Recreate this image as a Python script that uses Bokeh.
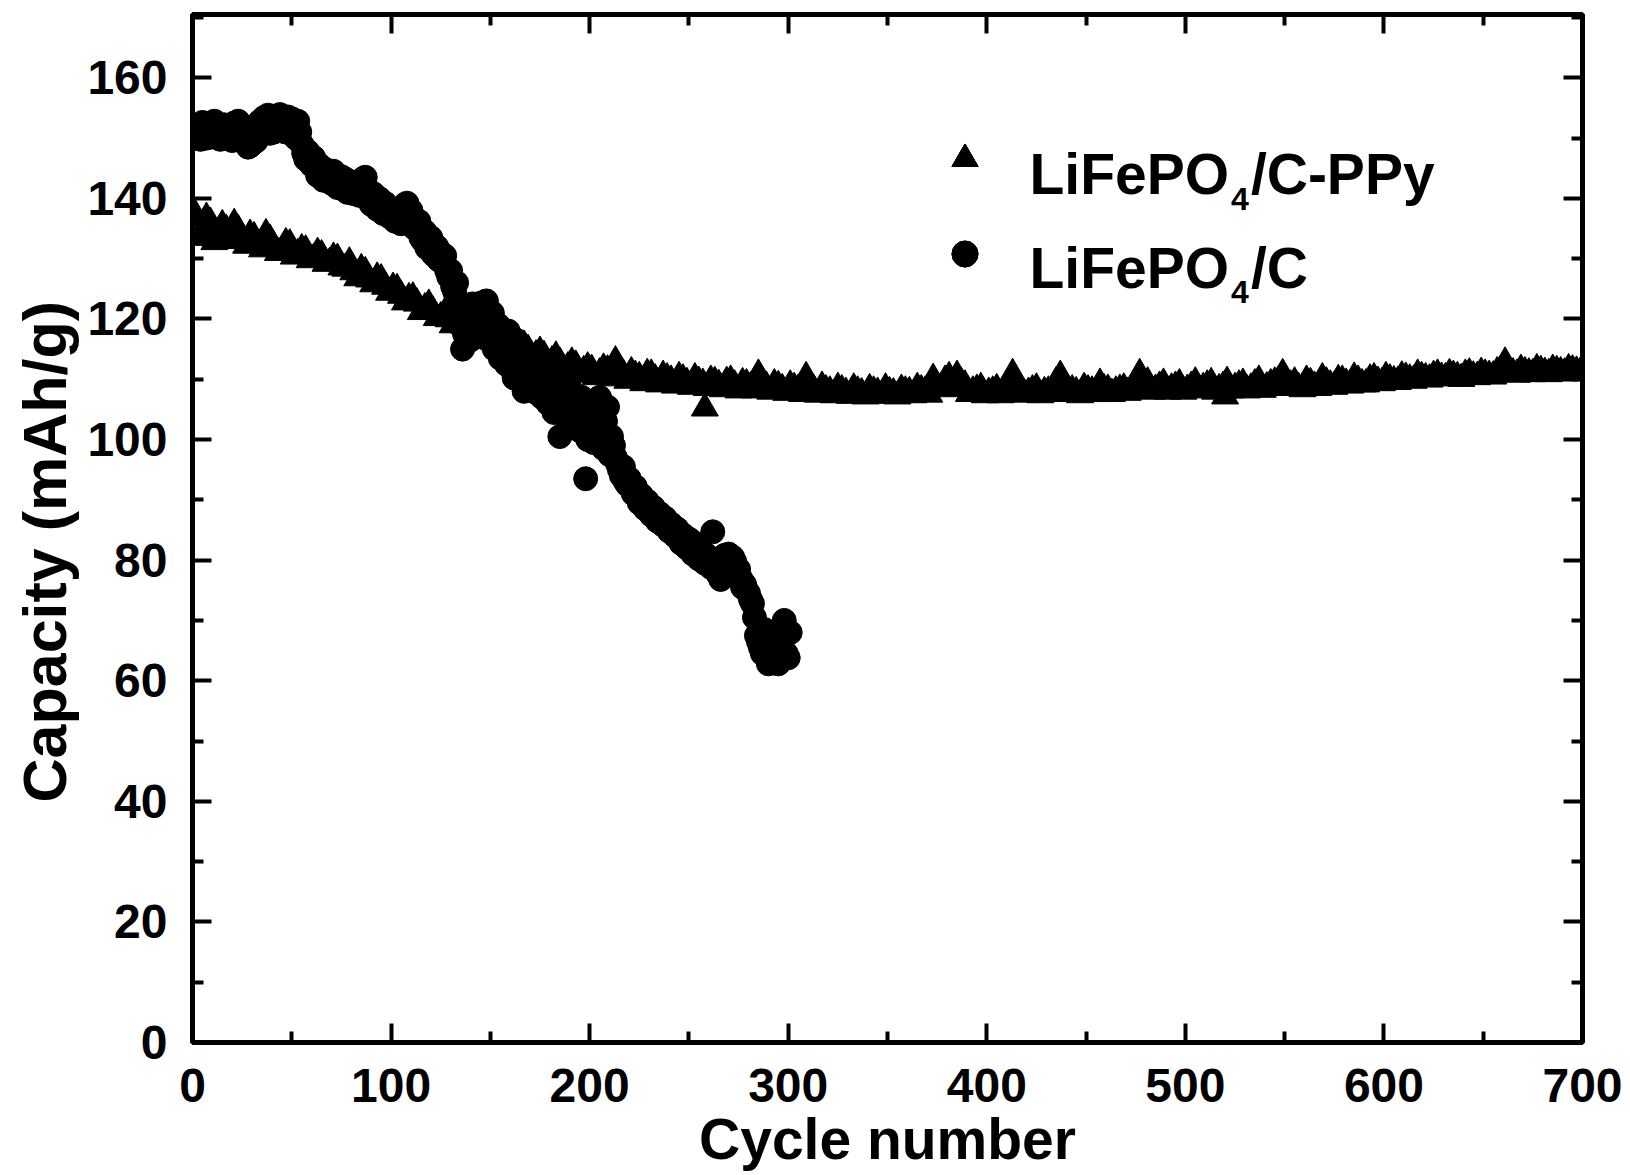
from bokeh.plotting import figure
from bokeh.models import Range1d, LinearAxis, FixedTicker, Label, Legend, LegendItem, CustomJSTickFormatter, Title
from bokeh.embed import file_html
from bokeh.resources import INLINE
from bokeh.core.properties import value

# ---------------- data ----------------
x_major = [0, 100, 200, 300, 400, 500, 600, 700]
x_minor = [50, 150, 250, 350, 450, 550, 650]
y_major = [0, 20, 40, 60, 80, 100, 120, 140, 160]
y_minor = [10, 30, 50, 70, 90, 110, 130, 150, 170]

# LiFePO4/C-PPy (triangles): cycles 1,5,9,...
ppy_cycle_a = list(range(1, 701, 4))
ppy_cap_a = [
    137.5, 134.5, 136.0, 133.2, 134.8, 135.8, 133.0, 134.0, 132.3, 134.1,
    132.0, 131.4, 132.4, 130.8, 131.4, 130.0, 130.6, 129.3, 130.0, 128.4,
    127.8, 128.3, 126.6, 126.9, 125.4, 125.2, 123.9, 123.5, 122.6, 121.8,
    121.3, 120.3, 120.0, 119.2, 118.9, 118.0, 117.9, 117.0, 116.8, 115.9,
    116.2, 115.0, 114.9, 114.0, 113.9, 113.0, 112.8, 112.0, 112.3, 111.4,
    111.6, 111.0, 111.5, 113.0, 110.8, 111.2, 110.4, 110.9, 110.0, 110.6,
    109.8, 110.4, 109.4, 110.2, 109.3, 109.8, 109.1, 109.6, 109.0, 109.4,
    108.7, 110.8, 108.8, 109.2, 108.4, 109.0, 108.3, 110.4, 108.2, 108.8,
    108.0, 108.6, 107.8, 108.5, 107.7, 108.4, 107.8, 108.5, 107.7, 108.3,
    107.9, 108.6, 108.0, 110.1, 108.6, 110.4, 110.6, 109.0, 108.0, 108.6,
    107.8, 108.4, 108.0, 110.9, 108.2, 107.8, 108.5, 107.9, 108.3, 110.6,
    108.2, 107.9, 108.6, 108.0, 109.3, 108.3, 108.0, 108.5, 108.4, 110.9,
    109.5, 108.3, 109.3, 108.5, 109.2, 108.3, 109.5, 108.6, 109.4, 108.4,
    109.6, 108.6, 109.3, 108.5, 109.8, 108.7, 109.5, 110.9, 109.0, 108.6,
    109.8, 108.8, 110.2, 109.0, 109.9, 109.3, 110.3, 109.2, 110.0, 109.6,
    110.4, 109.7, 110.5, 110.0, 110.8, 110.2, 110.6, 110.3, 110.9, 110.4,
    110.8, 110.5, 111.1, 110.6, 111.2, 112.8, 111.0, 111.6, 111.0, 111.7,
    111.1, 111.6, 111.2, 111.7, 111.3,
]
# LiFePO4/C-PPy: cycles 3,7,11,...
ppy_cycle_b = list(range(3, 701, 4))
ppy_cap_b = [
    133.5, 136.8, 132.8, 135.6, 133.0, 134.8, 132.2, 133.6, 131.6, 133.2,
    131.0, 132.6, 130.4, 131.6, 129.8, 131.0, 129.2, 130.2, 128.6, 129.4,
    126.8, 127.8, 125.8, 126.6, 124.4, 125.0, 122.8, 123.6, 121.2, 122.4,
    120.2, 121.0, 119.0, 119.8, 117.6, 118.8, 116.4, 117.8, 115.4, 116.8,
    114.4, 115.6, 113.4, 114.6, 112.4, 113.8, 111.6, 112.8, 110.8, 112.0,
    110.4, 111.8, 110.2, 111.0, 109.8, 110.6, 109.4, 110.8, 109.2, 110.2,
    109.0, 110.0, 108.8, 109.6, 108.6, 109.6, 108.4, 109.8, 108.2, 109.2,
    108.2, 109.6, 108.0, 108.9, 107.8, 108.6, 107.6, 108.8, 107.5, 108.2,
    107.4, 108.2, 107.3, 108.0, 107.2, 108.0, 107.3, 107.9, 107.2, 108.0,
    107.4, 108.2, 107.5, 108.8, 109.8, 108.4, 109.5, 107.6, 108.3, 107.4,
    108.0, 107.4, 108.6, 109.4, 107.5, 108.2, 107.4, 108.0, 109.6, 107.6,
    108.2, 107.4, 108.2, 107.6, 108.4, 107.6, 108.3, 107.8, 109.4, 108.2,
    108.0, 108.8, 108.0, 108.8, 108.0, 108.8, 108.2, 109.0, 108.0, 108.8,
    108.2, 109.0, 108.2, 109.2, 108.3, 109.2, 109.8, 108.6, 109.5, 108.4,
    109.4, 108.6, 109.5, 108.8, 109.8, 109.0, 109.8, 109.2, 110.2, 109.4,
    110.0, 109.6, 110.3, 109.8, 110.4, 110.0, 110.8, 110.2, 110.6, 110.1,
    111.0, 110.4, 110.8, 110.5, 111.6, 111.4, 110.8, 111.2, 110.9, 111.4,
    110.9, 111.4, 111.0, 111.5, 111.2,
]
# LiFePO4/C-PPy: isolated low points
ppy_cycle_c = [258, 520]
ppy_cap_c = [105.2, 107.2]

# LiFePO4/C (circles)
c_cycle_a = [
    1, 3, 6, 9, 12, 15, 18, 21, 24, 27,
    30, 33, 36, 39, 42, 45, 48, 51, 54, 56,
    59, 62, 65, 68, 71, 74, 77, 80, 83, 86,
    89, 92, 95, 98, 101, 104, 107, 110, 113, 116,
    119, 122, 125, 128, 131, 134, 136, 139, 142, 145,
    148, 150, 153, 156, 159, 162, 165, 168, 171, 174,
    177, 180, 183, 185, 187, 190, 193, 196, 198, 200,
    203, 206, 209, 211, 213, 215, 218, 221, 224, 227,
    230, 233, 236, 239, 242, 245, 248, 251, 254, 257,
    260, 262, 264, 266, 269, 272, 275, 278, 280, 282,
    284, 286, 288, 290, 292, 294, 296, 298, 300, 301,
]
c_cap_a = [
    150.0, 152.0, 150.5, 152.4, 150.3, 152.0, 150.8, 152.5, 150.6, 149.2,
    149.0, 151.5, 153.4, 150.8, 153.6, 151.2, 153.5, 152.0, 151.0, 147.5,
    146.0, 145.0, 144.5, 143.0, 144.5, 142.0, 143.2, 141.3, 141.8, 143.3,
    140.0, 139.5, 138.4, 138.5, 137.0, 136.5, 139.0, 138.0, 134.8, 133.0,
    132.5, 130.5, 131.0, 128.0, 125.4, 122.0, 115.0, 118.0, 121.0, 122.6,
    123.0, 119.5, 117.5, 116.0, 118.0, 110.2, 114.5, 108.5, 113.0, 109.5,
    111.0, 107.5, 110.0, 100.5, 106.0, 108.5, 104.0, 107.0, 93.5, 102.5,
    106.0, 101.0, 105.4, 100.5, 97.0, 95.0, 93.0, 91.8, 90.5, 89.5,
    88.2, 87.6, 86.5, 85.8, 85.0, 83.8, 83.2, 82.3, 81.5, 80.8,
    79.5, 84.7, 78.0, 76.8, 79.5, 80.5, 78.5, 76.0, 74.5, 72.8,
    67.5, 65.5, 68.5, 62.8, 64.5, 66.0, 63.5, 70.0, 63.8, 68.0,
]
c_cycle_b = [
    2, 4, 5, 7, 8, 10, 11, 13, 14, 16,
    17, 19, 20, 22, 23, 25, 26, 28, 29, 31,
    32, 34, 35, 37, 38, 40, 41, 43, 44, 46,
    47, 49, 50, 52, 53, 55, 57, 58, 60, 61,
    63, 64, 66, 67, 69, 70, 72, 73, 75, 76,
    78, 79, 81, 82, 84, 85, 87, 88, 90, 91,
    93, 94, 96, 97, 99, 100, 102, 103, 105, 106,
    108, 109, 111, 112, 114, 115, 117, 118, 120, 121,
    123, 124, 126, 127, 129, 130, 132, 133, 135, 137,
    138, 140, 141, 143, 144, 146, 147, 149, 151, 152,
    154, 155, 157, 158, 160, 161, 163, 164, 166, 167,
    169, 170, 172, 173, 175, 176, 178, 179, 181, 182,
    184, 186, 188, 189, 191, 192, 194, 195, 197, 199,
    201, 202, 204, 205, 207, 208, 210, 212, 214, 216,
    217, 219, 220, 222, 223, 225, 226, 228, 229, 231,
    232, 234, 235, 237, 238, 240, 241, 243, 244, 246,
    247, 249, 250, 252, 253, 255, 256, 258, 259, 261,
    263, 265, 267, 268, 270, 271, 273, 274, 276, 277,
    279, 281, 283, 285, 287, 289, 291, 293, 295, 297,
    299,
]
c_cap_b = [
    151.5, 149.8, 152.6, 150.0, 151.8, 150.2, 152.8, 151.0, 149.8, 152.2,
    150.2, 151.5, 149.6, 151.0, 152.8, 149.5, 150.5, 148.5, 148.7, 150.5,
    149.5, 152.8, 151.0, 152.5, 153.8, 152.2, 151.0, 152.0, 153.9, 152.6,
    151.0, 152.5, 153.2, 150.0, 152.8, 149.0, 146.5, 147.8, 145.5, 146.8,
    143.8, 145.5, 143.0, 144.8, 144.0, 142.5, 143.5, 141.8, 143.6, 141.5,
    141.0, 142.8, 140.8, 142.5, 140.5, 142.0, 143.5, 141.0, 139.0, 140.8,
    138.2, 140.0, 137.5, 139.2, 137.0, 138.2, 136.2, 137.8, 135.8, 137.5,
    139.2, 136.0, 137.0, 135.0, 136.2, 133.5, 134.5, 131.8, 133.5, 130.8,
    132.0, 129.8, 129.5, 130.5, 127.0, 128.0, 124.5, 126.0, 121.0, 117.5,
    120.0, 116.5, 122.5, 119.5, 121.8, 118.5, 122.8, 116.5, 121.0, 115.0,
    119.0, 113.5, 117.5, 112.5, 115.8, 111.5, 116.5, 110.5, 113.0, 108.0,
    112.0, 110.0, 114.0, 107.8, 111.5, 107.0, 112.5, 106.0, 110.5, 104.5,
    108.5, 105.5, 110.5, 103.0, 107.5, 102.0, 106.5, 101.5, 104.5, 100.0,
    105.0, 99.5, 103.5, 107.0, 98.5, 103.0, 97.5, 99.0, 96.0, 94.0,
    95.5, 92.5, 93.5, 91.0, 92.2, 89.5, 90.8, 88.5, 89.8, 87.5,
    88.8, 86.5, 87.8, 85.8, 87.0, 84.8, 86.0, 84.0, 85.2, 82.8,
    84.2, 82.0, 83.5, 81.0, 82.8, 80.2, 81.8, 79.5, 80.8, 78.8,
    80.0, 77.5, 78.8, 80.8, 81.0, 78.5, 79.8, 77.5, 77.0, 75.5,
    75.0, 73.5, 70.5, 66.5, 64.5, 67.0, 63.5, 65.0, 62.8, 69.0,
    64.5,
]

label_ppy = ["LiFePO", "4", "/C-PPy"]
label_c = ["LiFePO", "4", "/C"]
x_title = "Cycle number"
y_title = "Capacity (mAh/g)"

FONT = "Liberation Sans"

# ---------------- figure ----------------
p = figure(width=1630, height=1175, output_backend="svg", toolbar_location=None,
           x_range=Range1d(0, 700), y_range=Range1d(0, 170.5),
           min_border_left=192, min_border_right=48, min_border_top=14, min_border_bottom=133)
p.grid.visible = False
p.outline_line_color = "black"
p.outline_line_width = 5
p.background_fill_color = "white"
p.border_fill_color = "white"

xt = FixedTicker(ticks=x_major, minor_ticks=x_minor)
yt = FixedTicker(ticks=y_major, minor_ticks=y_minor)


def style_axis(ax, show_labels):
    ax.axis_line_color = None
    ax.major_tick_in = 19
    ax.major_tick_out = 0
    ax.minor_tick_in = 11
    ax.minor_tick_out = 0
    ax.major_tick_line_width = 4
    ax.minor_tick_line_width = 4
    ax.major_tick_line_color = "black"
    ax.minor_tick_line_color = "black"
    if show_labels:
        ax.major_label_text_font = FONT
        ax.major_label_text_font_style = "bold"
        ax.major_label_text_font_size = "48px"
        ax.major_label_text_color = "black"
        ax.axis_label_text_font = FONT
        ax.axis_label_text_font_style = "bold"
        ax.axis_label_text_color = "black"
    else:
        ax.formatter = CustomJSTickFormatter(code="return ''")
        ax.major_label_text_font_size = "1px"
        ax.major_label_standoff = 0


xa = p.xaxis[0]
xa.ticker = xt
style_axis(xa, True)
xa.axis_label = x_title
xa.axis_label_text_font_size = "57px"
xa.major_label_standoff = 26
xa.axis_label_standoff = 2

ya = p.yaxis[0]
ya.ticker = yt
style_axis(ya, True)
ya.major_label_standoff = 25

top = LinearAxis(ticker=xt)
style_axis(top, False)
p.add_layout(top, "above")
right = LinearAxis(ticker=yt)
style_axis(right, False)
p.add_layout(right, "right")

# y-axis title as a side title so it can be shifted along the axis
p.add_layout(Title(text=y_title, align="left", offset=240, vertical_align="middle",
                   text_font=FONT, text_font_size="61px", text_font_style="bold",
                   text_color="black", standoff=9), "left")

mk = dict(fill_color="black", line_color="black", line_width=1)
r_ppy = p.scatter(ppy_cycle_a, ppy_cap_a, marker="triangle", size=27, **mk)
r_ppy_b = p.scatter(ppy_cycle_b, ppy_cap_b, marker="triangle", size=27, **mk)
r_ppy_c = p.scatter(ppy_cycle_c, ppy_cap_c, marker="triangle", size=27, **mk)
r_c = p.scatter(c_cycle_a, c_cap_a, marker="circle", size=24, **mk)
r_c_b = p.scatter(c_cycle_b, c_cap_b, marker="circle", size=24, **mk)

legend = Legend(items=[LegendItem(label=value(""), renderers=[r_ppy, r_ppy_b, r_ppy_c]),
                       LegendItem(label=value(""), renderers=[r_c, r_c_b])],
                location=(740, 756), padding=0, spacing=30, margin=0,
                glyph_width=65, glyph_height=65, label_height=65, label_width=0,
                label_standoff=0, label_text_font_size="1px",
                border_line_color=None, background_fill_alpha=0)
p.add_layout(legend)


def add_text(x, y, txt, size):
    p.add_layout(Label(x=x, y=y, x_units="data", y_units="data", text=txt,
                       text_font=FONT, text_font_style="bold", text_font_size=size,
                       text_color="black", text_align="left", text_baseline="alphabetic"))


add_text(421.5, 144.1, label_ppy[0], "57px")
add_text(523.0, 139.97, label_ppy[1], "32px")
add_text(533.0, 144.1, label_ppy[2], "57px")
add_text(421.5, 128.5, label_c[0], "57px")
add_text(523.0, 124.4, label_c[1], "32px")
add_text(533.0, 128.5, label_c[2], "57px")

open("out.html", "w").write(file_html(p, INLINE))
